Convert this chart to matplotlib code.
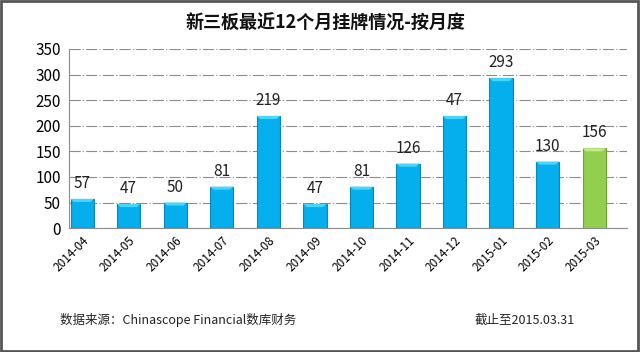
import matplotlib
matplotlib.use("Agg")
import matplotlib.pyplot as plt
from matplotlib.patches import Rectangle, Polygon
import numpy as np

plt.rcParams['font.family'] = ['Noto Sans CJK SC', 'DejaVu Sans']

months = ['2014-04', '2014-05', '2014-06', '2014-07', '2014-08', '2014-09',
          '2014-10', '2014-11', '2014-12', '2015-01', '2015-02', '2015-03']
listings = [57, 47, 50, 81, 219, 47, 81, 126, 219, 293, 130, 156]
bar_labels = ['57', '47', '50', '81', '219', '47', '81', '126', '47', '293', '130', '156']
y_ticks = [0, 50, 100, 150, 200, 250, 300, 350]

title = '新三板最近12个月挂牌情况-按月度'
source = '数据来源：Chinascope Financial数库财务'
as_of = '截止至2015.03.31'

fig = plt.figure(figsize=(6.4, 3.52), dpi=100)
ax = fig.add_axes([0.108, 0.352, 0.872, 0.509])

x = np.arange(len(months))
colors = ['#05AEEC'] * (len(months) - 1) + ['#92CF4E']
edges = ['#0A86B8'] * (len(months) - 1) + ['#6FA52E']
caps = ['#45D8FF'] * (len(months) - 1) + ['#C2EC8A']
bars = ax.bar(x, listings, width=0.5, color=colors, edgecolor=edges,
              linewidth=0.8, zorder=3)

# lighter bevelled top cap on every bar
for b, cap in zip(bars, caps):
    x0, w, h = b.get_x(), b.get_width(), b.get_height()
    ax.add_patch(Polygon([(x0, h), (x0 + w, h), (x0 + w * 0.85, h - 6), (x0 + w * 0.15, h - 6)],
                         closed=True, facecolor=cap, edgecolor='none', zorder=4))

for i, (v, lab) in enumerate(zip(listings, bar_labels)):
    ax.annotate(lab, (i, v), xytext=(0, 5), textcoords='offset points',
                ha='center', va='bottom', fontsize=11, color='#222222')

ax.set_xlim(-0.28, 11.71)
ax.set_ylim(0, 350)
ax.set_yticks(y_ticks)
ax.set_yticklabels([str(t) for t in y_ticks], fontsize=11)
ax.set_xticks(x)
ax.set_xticklabels(months, rotation=45, ha='right', rotation_mode='anchor',
                   fontsize=8.5)
ax.tick_params(axis='both', length=0, pad=6)
ax.tick_params(axis='x', pad=4)
ax.yaxis.grid(True, color='#8C8C8C', linestyle=(0, (10, 2, 1, 2)), linewidth=0.8, zorder=0)
ax.set_axisbelow(True)
for s in ['top', 'right']:
    ax.spines[s].set_visible(False)
ax.spines['left'].set_color('#8C8C8C')
ax.spines['bottom'].set_color('#8C8C8C')

fig.text(0.508, 0.935, title, ha='center', va='center', fontsize=13,
         fontweight='bold', color='#111111')
fig.text(0.094, 0.09, source, ha='left', va='center', fontsize=9, color='#222222')
fig.text(0.742, 0.09, as_of, ha='left', va='center', fontsize=9, color='#222222')

fig.add_artist(Rectangle((0.002, 0.003), 0.995, 0.993, transform=fig.transFigure,
                         fill=False, edgecolor='#555555', linewidth=2))

fig.savefig('out.png', dpi=100)
